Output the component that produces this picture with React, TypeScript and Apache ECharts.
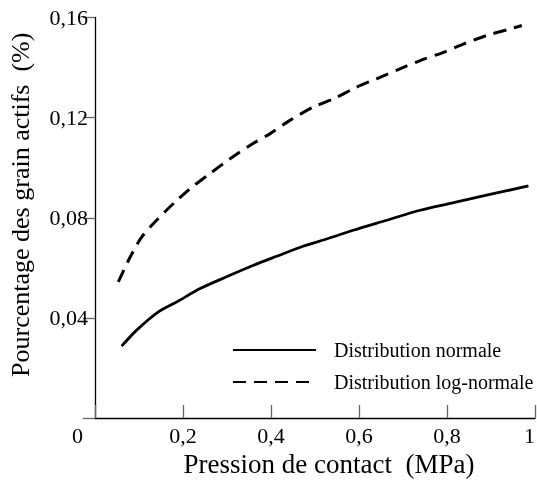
import React, { useEffect, useRef } from "react";
import * as echarts from "echarts";

const xTicks = [0, 0.2, 0.4, 0.6, 0.8, 1];
const yTicks = [0, 0.04, 0.08, 0.12, 0.16];

const normalX = [0.0606, 0.0947, 0.144, 0.186, 0.239, 0.299, 0.36, 0.413, 0.473, 0.53, 0.587, 0.663, 0.739, 0.815, 0.89, 0.985];
const normalY = [0.0287, 0.0351, 0.0424, 0.0464, 0.0517, 0.0564, 0.061, 0.0646, 0.0686, 0.0717, 0.075, 0.079, 0.083, 0.086, 0.089, 0.0927];

const logX = [0.053, 0.08, 0.106, 0.14, 0.182, 0.216, 0.261, 0.307, 0.352, 0.398, 0.443, 0.496, 0.542, 0.595, 0.64, 0.693, 0.739, 0.792, 0.837, 0.89, 0.943, 0.97];
const logY = [0.0544, 0.0643, 0.0723, 0.079, 0.0863, 0.0916, 0.0976, 0.1036, 0.1089, 0.1136, 0.1189, 0.1242, 0.1275, 0.1322, 0.1355, 0.1395, 0.1428, 0.1461, 0.1494, 0.1528, 0.1554, 0.1568];

const seriesNames = ["Distribution normale", "Distribution log-normale"];
const xName = "Pression de contact  (MPa)";
const yName = "Pourcentage des grain actifs  (%)";

const FONT = "Liberation Serif";

const fmt = (v: number) => (v === 0 ? "" : v === 1 ? "1" : String(Number(v.toFixed(2))).replace(".", ","));

export default function App() {
  const ref = useRef<HTMLDivElement>(null);
  useEffect(() => {
    if (!ref.current) return;
    const chart = echarts.init(ref.current, undefined, { renderer: "svg" });
    chart.setOption({
      animation: false,
      grid: { left: 95, right: 2, top: 17.5, bottom: 62, containLabel: false, outerBoundsMode: "none" },
      legend: {
        orient: "vertical",
        left: 227,
        top: 334,
        itemWidth: 83,
        itemHeight: 14,
        itemGap: 10,
        data: seriesNames,
        itemStyle: { opacity: 0 },
        textStyle: { fontFamily: FONT, fontSize: 20, color: "#000", padding: [0, 0, 0, 13], lineHeight: 22 },
      },
      xAxis: {
        type: "value",
        min: xTicks[0],
        max: xTicks[xTicks.length - 1],
        interval: 0.2,
        name: xName,
        nameLocation: "middle",
        nameGap: 32,
        nameTextStyle: { fontFamily: FONT, fontSize: 27, color: "#000", padding: [0, 0, 0, 28] },
        axisLine: { lineStyle: { color: "#000", width: 1.3 } },
        axisTick: { inside: true, length: 13, lineStyle: { color: "#666", width: 1.3 } },
        axisLabel: { fontFamily: FONT, fontSize: 22, color: "#000", margin: 6, formatter: fmt, alignMaxLabel: "right" },
        splitLine: { show: false },
      },
      yAxis: {
        type: "value",
        min: yTicks[0],
        max: yTicks[yTicks.length - 1],
        interval: 0.04,
        name: yName,
        nameLocation: "middle",
        nameGap: 62,
        nameTextStyle: { fontFamily: FONT, fontSize: 26, color: "#000", padding: [0, 0, 0, 26] },
        axisLine: { show: true, lineStyle: { color: "#000", width: 1.3 } },
        axisTick: { show: true, inside: false, length: 12, lineStyle: { color: "#666", width: 1.3 } },
        axisLabel: { fontFamily: FONT, fontSize: 22, color: "#000", margin: 7, formatter: fmt },
        splitLine: { show: false },
      },
      graphic: [
        {
          type: "text",
          left: 72,
          top: 424,
          style: { text: "0", fontFamily: FONT, fontSize: 22, fill: "#000" },
        },
      ],
      series: [
        {
          name: seriesNames[0],
          type: "line",
          smooth: 0.3,
          showSymbol: false,
          symbol: "none",
          data: normalX.map((x, i) => [x, normalY[i]]),
          lineStyle: { color: "#000", width: 2.8, type: "solid" },
          itemStyle: { color: "#000" },
        },
        {
          name: seriesNames[1],
          type: "line",
          smooth: 0.3,
          showSymbol: false,
          symbol: "none",
          data: logX.map((x, i) => [x, logY[i]]),
          lineStyle: { color: "#000", width: 3, type: [13, 8] },
          itemStyle: { color: "#000" },
        },
      ],
    });
    return () => chart.dispose();
  }, []);
  return (
    <div
      ref={ref}
      style={{ position: "fixed", left: 0, top: 0, width: 537, height: 480 }}
    />
  );
}
